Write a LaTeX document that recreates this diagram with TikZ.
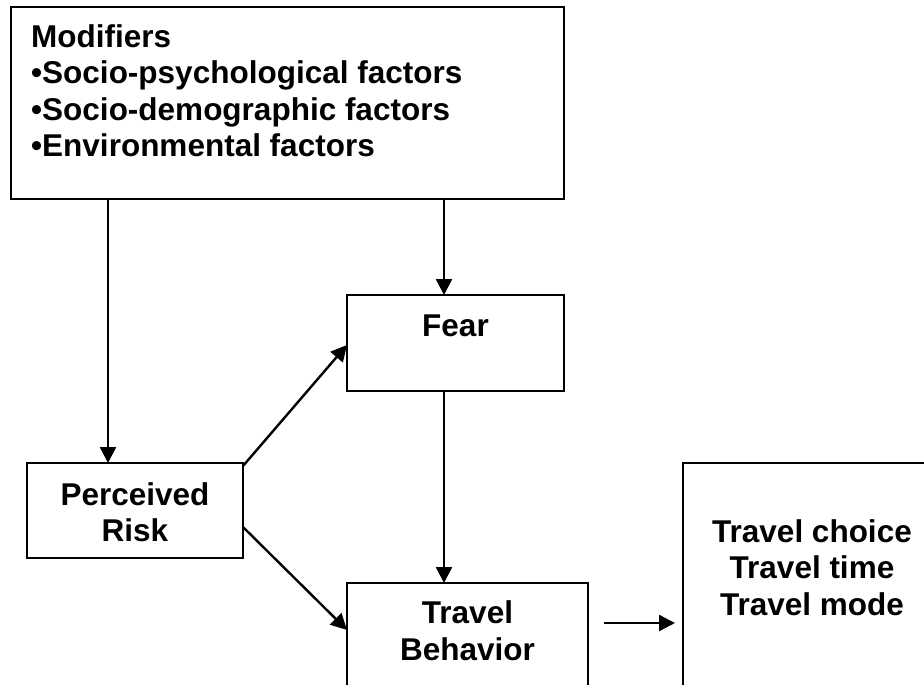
\documentclass[tikz,border=0pt]{standalone}
\usepackage{fontspec}
\setmainfont{Liberation Sans}
\usetikzlibrary{arrows.meta}
\begin{document}
\begin{tikzpicture}[x=1pt,y=-1pt,
  box/.style={draw, line width=2.4pt, inner sep=0pt, outer sep=0pt, anchor=north west},
  lbl/.style={inner sep=0pt, font=\fontsize{31.5}{36.5}\selectfont\bfseries},
  arr/.style={line width=2.4pt, -{Triangle[length=16pt,width=16pt]}}]
\useasboundingbox[fill=white] (0,0) rectangle (924,685);
% boxes
\node[box, minimum width=553pt, minimum height=192pt] (mod) at (11,7) {};
\node[box, minimum width=217pt, minimum height=96pt] (fear) at (347,295) {};
\node[box, minimum width=216pt, minimum height=95pt] (pr) at (27,463) {};
\node[box, minimum width=241pt, minimum height=120pt] (tb) at (347,583) {};
\node[box, minimum width=260pt, minimum height=240pt] (res) at (683,463) {};
% texts (base anchor = baseline of the last line)
\node[lbl, anchor=base west, align=left] (modt) at (31,156.5) {Modifiers\\•Socio-psychological factors\\•Socio-demographic factors\\•Environmental factors};
\node[lbl, anchor=base] (feart) at (455.5,336) {Fear};
\node[lbl, anchor=base, align=center] (prt) at (135,541.5) {Perceived\\Risk};
\node[lbl, anchor=base, align=center] (tbt) at (467.5,660) {Travel\\Behavior};
\node[lbl, anchor=base, align=center] (rest) at (812,615) {Travel choice\\Travel time\\Travel mode};
% connectors
\draw[arr] ([xshift=97pt]mod.south west) -- ([xshift=81pt]pr.north west);
\draw[arr] ([xshift=433pt]mod.south west) -- ([xshift=97pt]fear.north west);
\draw[arr] ([xshift=97pt]fear.south west) -- ([xshift=97pt]tb.north west);
\draw[arr] ([yshift=-3pt]pr.north east) -- ([yshift=-2pt]fear.west);
\draw[arr] ([yshift=-16.5pt]pr.east) -- ([yshift=-47pt]tb.north west);
\draw[arr] ([xshift=16pt,yshift=-40pt]tb.north east) -- ([xshift=-8pt,yshift=-160pt]res.north west);
\end{tikzpicture}
\end{document}
